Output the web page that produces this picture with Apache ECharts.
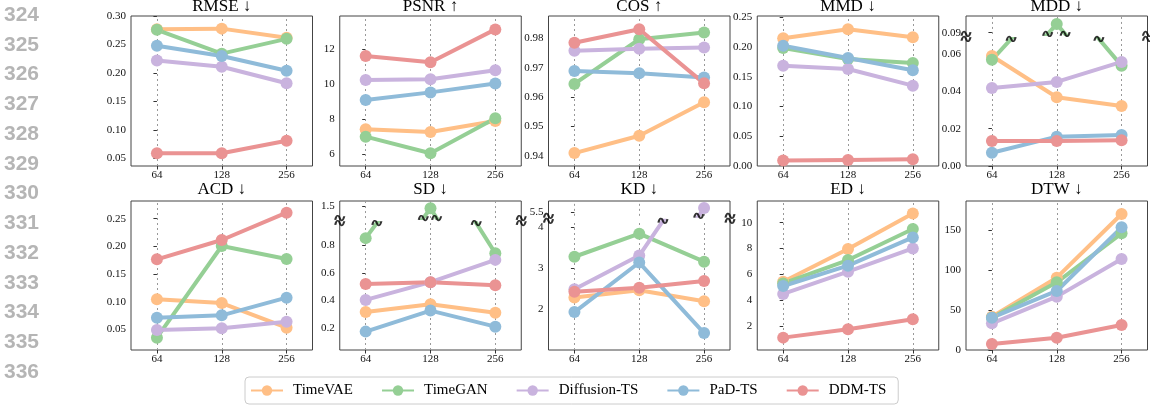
<!DOCTYPE html>
<html>
<head>
<meta charset="utf-8">
<script src="https://cdn.jsdelivr.net/npm/echarts@6.0.0/dist/echarts.min.js"></script>
<style>
  html, body { margin: 0; padding: 0; background: #fff; }
  #chart { width: 1150px; height: 406px; }
</style>
</head>
<body>
<div id="chart"></div>
<script>
const sizes = ['64', '128', '256']
const methods = ['TimeVAE', 'TimeGAN', 'Diffusion-TS', 'PaD-TS', 'DDM-TS']
const colors = ['#ffbf86', '#95cf95', '#c9b3de', '#8fbbd9', '#ea9393']

// one row per method (same order as methods), one column per length
const rmse = [[0.277, 0.278, 0.262], [0.276, 0.234, 0.260], [0.222, 0.211, 0.182], [0.248, 0.230, 0.204], [0.059, 0.059, 0.081]]
const psnr = [[7.43, 7.28, 7.90], [7.01, 6.06, 8.06], [10.25, 10.29, 10.80], [9.10, 9.54, 10.05], [11.62, 11.26, 13.14]]
const cos = [[0.9410, 0.9469, 0.9583], [0.9645, 0.9797, 0.9820], [0.9758, 0.9765, 0.9769], [0.9689, 0.9681, 0.9667], [0.9785, 0.9831, 0.9647]]
const mmd = [[0.2146, 0.2298, 0.2163], [0.1983, 0.1798, 0.1730], [0.1685, 0.1629, 0.1348], [0.2022, 0.1815, 0.1607], [0.0087, 0.0098, 0.0109]]
const mdd = [[0.0589, 0.0368, 0.0321], [0.0568, 0.0946, 0.0537], [0.0418, 0.0450, 0.0557], [0.0071, 0.0157, 0.0166], [0.0134, 0.0134, 0.0138]]
const acd = [[0.1042, 0.0976, 0.0530], [0.0349, 0.2006, 0.1771], [0.0488, 0.0518, 0.0639], [0.0711, 0.0753, 0.1072], [0.1765, 0.2114, 0.2608]]
const sd = [[0.318, 0.373, 0.313], [0.851, 1.483, 0.742], [0.405, 0.533, 0.694], [0.176, 0.328, 0.212], [0.520, 0.533, 0.511]]
const kd = [[2.29, 2.47, 2.20], [3.28, 3.84, 3.16], [2.49, 3.31, 5.61], [1.94, 3.14, 1.43], [2.43, 2.53, 2.69]]
const ed = [[5.43, 7.96, 10.72], [5.30, 7.11, 9.51], [4.48, 6.21, 8.01], [5.10, 6.67, 8.86], [1.10, 1.75, 2.52]]
const dtw = [[41.7, 90.4, 170.0], [40.4, 84.6, 145.8], [33.3, 66.7, 113.8], [40.4, 73.8, 153.3], [7.5, 15.4, 31.3]]

const rmseTicks = ['0.05', '0.10', '0.15', '0.20', '0.25', '0.30']
const psnrTicks = ['6', '8', '10', '12']
const cosTicks = ['0.94', '0.95', '0.96', '0.97', '0.98']
const mmdTicks = ['0.00', '0.05', '0.10', '0.15', '0.20', '0.25']
const mddTicks = ['0.00', '0.02', '0.04', '0.06', '0.09']
const acdTicks = ['0.05', '0.10', '0.15', '0.20', '0.25']
const sdTicks = ['0.2', '0.4', '0.6', '0.8', '1.5']
const kdTicks = ['2', '3', '4', '5.5']
const edTicks = ['2', '4', '6', '8', '10']
const dtwTicks = ['0', '50', '100', '150']

// axis ranges; cut = broken y axis [top of lower part, bottom of upper part]
const panels = [
  { title: 'RMSE ↓', data: rmse, ticks: rmseTicks, min: 0.0365, max: 0.3002 },
  { title: 'PSNR ↑', data: psnr, ticks: psnrTicks, min: 5.333, max: 13.905 },
  { title: 'COS ↑', data: cos, ticks: cosTicks, min: 0.9366, max: 0.9876 },
  { title: 'MMD ↓', data: mmd, ticks: mmdTicks, min: -0.0005, max: 0.2522 },
  { title: 'MDD ↓', data: mdd, ticks: mddTicks, min: 0, max: 0.0989, cut: [0.068, 0.0893] },
  { title: 'ACD ↓', data: acd, ticks: acdTicks, min: 0.0127, max: 0.2819 },
  { title: 'SD ↓', data: sd, ticks: sdTicks, min: 0.0433, max: 1.536, cut: [0.96, 1.413] },
  { title: 'KD ↓', data: kd, ticks: kdTicks, min: 1.02, max: 5.78, cut: [4.15, 5.42] },
  { title: 'ED ↓', data: ed, ticks: edTicks, min: 0.142, max: 11.68 },
  { title: 'DTW ↓', data: dtw, ticks: dtwTicks, min: 0, max: 186.25 }
]

const serif = '"Liberation Serif", "DejaVu Serif", serif'
const tilde = 'path://M0,6 C2,0 5,0 7,4 C9,8 12,8 14,2'
const GAP = 5

const grids = []
const xAxes = []
const yAxes = []
const series = []
const graphics = []

function textEl(x, y, text, font, fill, align) {
  return {
    type: 'text', x, y, silent: true,
    style: { text, font, fill, align, verticalAlign: 'middle', textAlign: align, textVerticalAlign: 'middle' }
  }
}

panels.forEach((p, n) => {
  const col = n % 5
  const row = Math.floor(n / 5)
  const left = 131 + col * 208.75
  const width = 181.5
  const top = row ? 201 : 16
  const height = row ? 149 : 150

  // frame with the border
  grids.push({ left, top, width, height, show: true, borderColor: '#444', borderWidth: 1, backgroundColor: 'transparent', outerBoundsMode: 'none' })
  let gi = grids.length - 1
  xAxes.push({ gridIndex: gi, type: 'value', min: 0, max: 1, show: false })
  yAxes.push({ gridIndex: gi, type: 'value', min: 0, max: 1, show: false })

  graphics.push(textEl(left + width / 2, row ? 190 : 7, p.title, '17px ' + serif, '#000', 'center'))

  const parts = []
  if (p.cut) {
    const k = (height - GAP) / (p.cut[0] - p.min + p.max - p.cut[1])
    const lowH = (p.cut[0] - p.min) * k
    parts.push({ top: top + height - lowH, height: lowH, min: p.min, max: p.cut[0], lower: true, edge: p.cut[0] })
    parts.push({ top, height: (p.max - p.cut[1]) * k, min: p.cut[1], max: p.max, lower: false, edge: p.cut[1] })
  } else {
    parts.push({ top, height, min: p.min, max: p.max, lower: true })
  }

  parts.forEach(part => {
    grids.push({ left, top: part.top, width, height: part.height, show: false, outerBoundsMode: 'none' })
    gi = grids.length - 1
    const tickVals = p.ticks.map(Number).filter(v => v >= part.min - 1e-9 && v <= part.max + 1e-9)

    xAxes.push({
      gridIndex: gi, type: 'value', min: -0.4, max: 2.4, show: part.lower,
      axisLine: { show: false },
      splitLine: { show: false },
      axisTick: { show: true, length: 3.5, customValues: [0, 1, 2], lineStyle: { color: '#333' } },
      axisLabel: {
        customValues: [0, 1, 2], margin: 4, fontFamily: serif, fontSize: 11, color: '#111',
        formatter: v => sizes[Math.round(v)]
      }
    })
    yAxes.push({
      gridIndex: gi, type: 'value', min: part.min, max: part.max,
      axisLine: { show: false },
      splitLine: { show: false },
      axisTick: { show: true, length: 3.5, customValues: tickVals, lineStyle: { color: '#333' } },
      axisLabel: {
        customValues: tickVals, margin: 5, fontFamily: serif, fontSize: 11, color: '#111',
        formatter: v => p.ticks.find(t => Math.abs(Number(t) - v) < 1e-9) || ''
      }
    })

    methods.forEach((m, k) => {
      const s = {
        type: 'line', name: m, xAxisIndex: gi, yAxisIndex: gi,
        data: p.data[k].map((v, i) => [i, v]),
        symbol: 'circle', symbolSize: 12, showSymbol: true, clip: true,
        lineStyle: { width: 4, color: colors[k] },
        itemStyle: { color: colors[k] },
        emphasis: { disabled: true },
        z: 2
      }
      if (k === 0) {
        s.markLine = {
          silent: true, symbol: 'none', z: 1, animation: false,
          label: { show: false },
          lineStyle: { type: [2, 3], color: '#999', width: 1 },
          data: [0, 1, 2].map(v => ({ xAxis: v }))
        }
      }
      series.push(s)
    })

    if (p.cut) {
      // break marks on both spines and where a line leaves through the cut
      const pts = [[-0.4, part.edge], [2.4, part.edge]]
      p.data.forEach(vals => {
        for (let i = 0; i < vals.length - 1; i++) {
          const a = vals[i]
          const b = vals[i + 1]
          const crosses = (a < p.cut[0] && b > p.cut[1]) || (a > p.cut[1] && b < p.cut[0])
          if (crosses) pts.push([i + (part.edge - a) / (b - a), part.edge])
        }
      })
      series.push({
        type: 'scatter', xAxisIndex: gi, yAxisIndex: gi, data: pts,
        symbol: tilde, symbolSize: [9, 5], clip: false, silent: true, z: 6,
        itemStyle: { color: 'rgba(0,0,0,0)', borderColor: '#000', borderWidth: 1.6 }
      })
    }
  })
})

// manuscript line numbers down the left margin
for (let i = 0; i < 13; i++) {
  graphics.push(textEl(4, 15 + i * 29.75, String(324 + i), 'bold 21px "Liberation Sans", Arial, sans-serif', '#b5b5b5', 'left'))
}

const chart = echarts.init(document.getElementById('chart'), null, { renderer: 'canvas' })
chart.setOption({
  animation: false,
  backgroundColor: '#fff',
  grid: grids,
  xAxis: xAxes,
  yAxis: yAxes,
  legend: {
    data: methods,
    left: 245,
    top: 377,
    orient: 'horizontal',
    itemWidth: 32,
    itemHeight: 13,
    itemGap: 28,
    selectedMode: false,
    padding: [6, 12, 6, 5],
    borderColor: '#ccc',
    borderWidth: 1,
    borderRadius: 4,
    formatter: name => '\u2004' + name,
    textStyle: { fontFamily: serif, fontSize: 15, color: '#000' }
  },
  graphic: graphics,
  series
})
</script>
</body>
</html>
